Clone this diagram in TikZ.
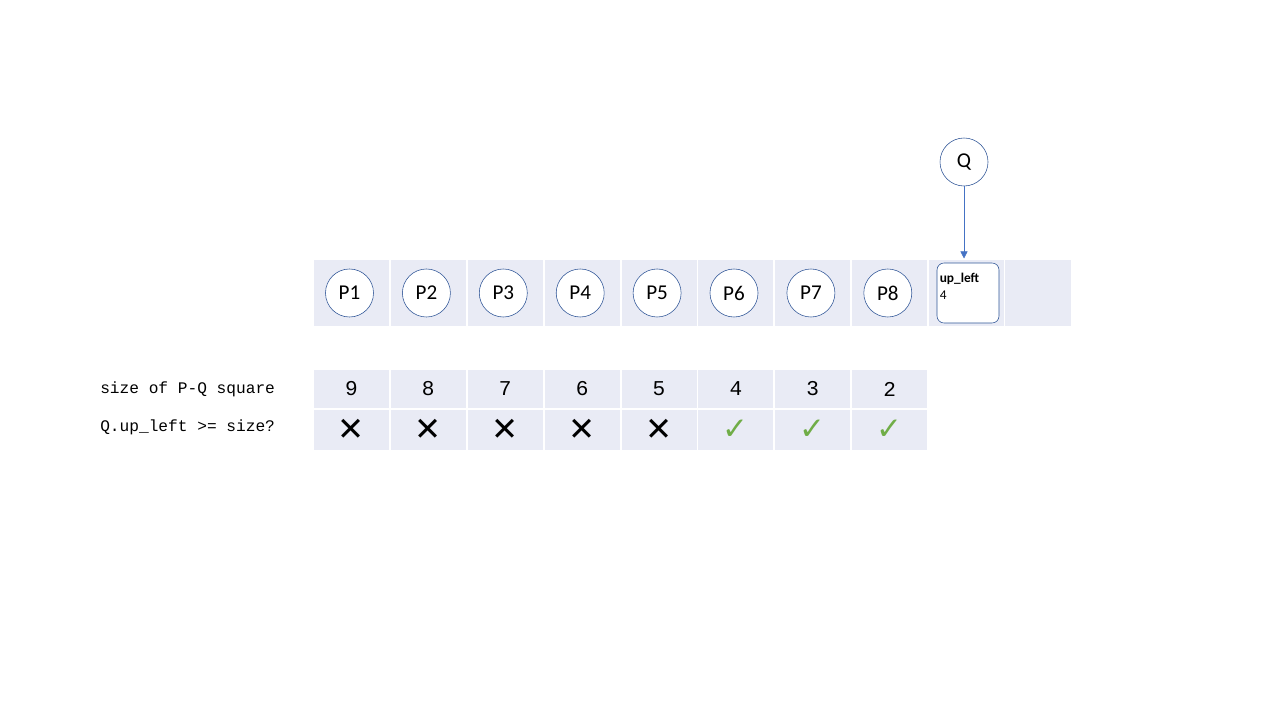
\documentclass[tikz,border=0pt]{standalone}
\usepackage{fontspec}
\setmainfont{Carlito}
\setmonofont{Liberation Mono}
\newfontfamily\symfont{DejaVu Sans}
\usetikzlibrary{arrows.meta}
\definecolor{cellfill}{HTML}{E9EBF5}
\definecolor{ringblue}{HTML}{2F5597}
\definecolor{arrowblue}{HTML}{4472C4}
\definecolor{okgreen}{HTML}{70AD47}
\tikzset{
  cell/.style={fill=cellfill, inner sep=0pt, minimum width=1.875cm},
  pcircle/.style={circle, draw=ringblue, fill=white, inner sep=0pt, minimum size=1.2cm,
    font=\fontsize{15}{18}\selectfont},
  rowlabel/.style={anchor=west, inner sep=0pt, font=\ttfamily\fontsize{11.5}{14}\selectfont},
  sizenum/.style={font=\ttfamily\fontsize{15}{18}\selectfont},
  nomark/.style={font=\symfont\bfseries\fontsize{23}{24}\selectfont},
  okmark/.style={font=\symfont\fontsize{22}{24}\selectfont, text=okgreen},
}
\begin{document}
\begin{tikzpicture}[x=0.025cm, y=-0.025cm]
  \useasboundingbox (0,0) rectangle (1280,720);
  % top row of cells
  \foreach \i in {1,...,9}
    \node[cell, minimum height=1.65cm] (c\i) at ({274.5+76.9*\i},293) {};
  \node[cell, minimum height=1.65cm, minimum width=1.65cm] (c10) at (1037.5,293) {};
  % the P nodes
  \foreach \i in {1,...,8}
    \node[pcircle] (p\i) at ({272.6+76.9*\i},293) {P\i};
  % Q and its cell
  \node[pcircle] (q) at (964,162) {Q};
  \node[draw=ringblue, fill=white, rounded corners=5pt, minimum width=1.55cm,
    minimum height=1.5cm, inner sep=0pt] (ul) at (968,293) {};
  \node[anchor=north west, inner xsep=2pt, inner ysep=7.5pt, align=left,
    font=\fontsize{9.5}{11.5}\selectfont] (ultext) at (ul.north west) {\textbf{up\_left}\\4};
  \draw[arrowblue, -{Triangle[width=5pt,length=5pt]}, shorten >=3pt]
    (q.south) -- (q.south |- ul.north);
  % table below
  \node[rowlabel] (sizelabel) at (100,389) {size of P-Q square};
  \node[rowlabel] (checklabel) at (100,427) {Q.up\_left >= size?};
  \foreach \i/\s in {1/9,2/8,3/7,4/6,5/5,6/4,7/3,8/2} {
    \node[cell, minimum height=0.95cm] (s\i) at ({274.5+76.9*\i},389) {};
    \node[sizenum] (n\i) at (s\i) {\s};
    \node[cell, minimum height=1cm] (k\i) at ({274.5+76.9*\i},430) {};
  }
  \foreach \i in {1,...,5}
    \node[nomark] (x\i) at (k\i) {✕};
  \foreach \i in {6,7,8}
    \node[okmark] (v\i) at (k\i) {✓};
\end{tikzpicture}
\end{document}
